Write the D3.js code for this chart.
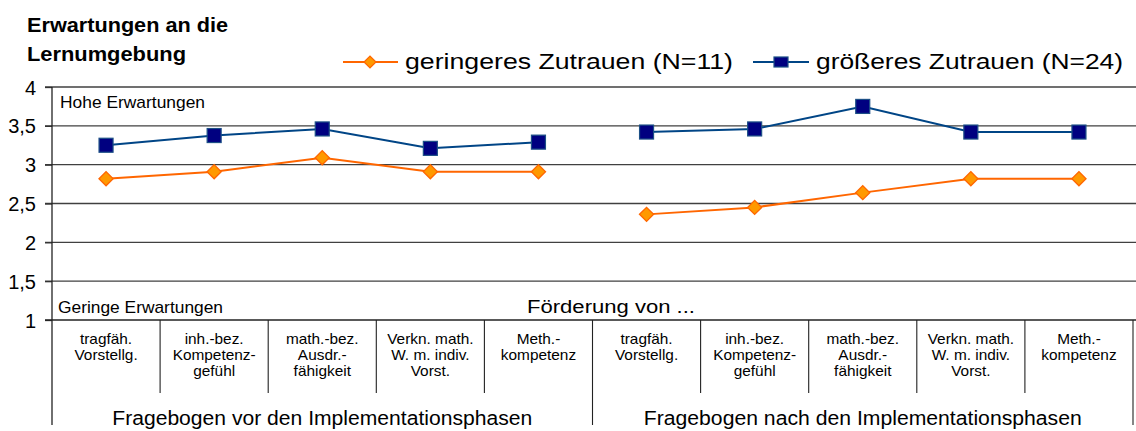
<html>
<head>
	<meta charset="utf-8">
	<script src="https://d3js.org/d3.v7.min.js"></script>
	<style>
		body { margin: 0; background: #fff; }
		text { font-family: "Liberation Sans", Arial, sans-serif; fill: #000; }
	</style>
</head>
<body>
	<svg width="1136" height="431" id="chart"></svg>
	<script>
		var categories = [
			["tragfäh.", "Vorstellg."],
			["inh.-bez.", "Kompetenz-", "gefühl"],
			["math.-bez.", "Ausdr.-", "fähigkeit"],
			["Verkn. math.", "W. m. indiv.", "Vorst."],
			["Meth.-", "kompetenz"],
			["tragfäh.", "Vorstellg."],
			["inh.-bez.", "Kompetenz-", "gefühl"],
			["math.-bez.", "Ausdr.-", "fähigkeit"],
			["Verkn. math.", "W. m. indiv.", "Vorst."],
			["Meth.-", "kompetenz"]
		];
		var groups = ["Fragebogen vor den Implementationsphasen", "Fragebogen nach den Implementationsphasen"];
		var geringer = [2.82, 2.91, 3.09, 2.91, 2.91, 2.36, 2.45, 2.64, 2.82, 2.82];
		var groesser = [3.25, 3.375, 3.46, 3.21, 3.29, 3.42, 3.46, 3.75, 3.42, 3.42];
		var yTicks = [1, 1.5, 2, 2.5, 3, 3.5, 4];
		var seriesNames = ["geringeres Zutrauen (N=11)", "größeres Zutrauen (N=24)"];

		var svg = d3.select('#chart');
		var plotL = 52, plotR = 1133, plotT = 87, plotB = 320;

		var x = d3.scaleBand()
			.domain(d3.range(categories.length))
			.range([plotL, plotR]);
		var y = d3.scaleLinear().domain([1, 4]).range([plotB, plotT]);
		var fmt = function(d) { return String(d).replace('.', ','); };
		var cx = function(i) { return x(i) + x.bandwidth() / 2; };

		// text helper: width stretched via textLength (the source picture is wider than its font)
		function label(px, py, str, size, width, anchor, weight) {
			var t = svg.append('text')
				.attr('x', px).attr('y', py)
				.attr('text-anchor', anchor || 'start')
				.style('font-size', size + 'px')
				.style('font-weight', weight || 'normal')
				.text(str);
			if (width) t.attr('textLength', width).attr('lengthAdjust', 'spacingAndGlyphs');
			return t;
		}

		// gridlines
		svg.append('g').selectAll('line')
			.data(yTicks.slice(1))
			.enter().append('line')
			.attr('x1', plotL - 7).attr('x2', 1136)
			.attr('y1', function(d) { return y(d); })
			.attr('y2', function(d) { return y(d); })
			.attr('stroke', '#404040')
			.attr('stroke-width', 1.3);

		var yAxis = svg.append('g')
			.attr('transform', 'translate(' + plotL + ',0)')
			.call(d3.axisLeft(y).tickValues(yTicks).tickFormat(fmt).tickSize(7).tickPadding(9));
		yAxis.select('.domain').remove();
		yAxis.selectAll('line').attr('stroke', '#333').attr('stroke-width', 1.3);
		yAxis.selectAll('text')
			.style('font-size', '20px')
			.style('font-family', '"Liberation Sans", Arial, sans-serif')
			.attr('fill', '#000')
			.attr('dy', '0.35em');

		svg.append('line')
			.attr('x1', plotL).attr('x2', plotL).attr('y1', plotT).attr('y2', 425)
			.attr('stroke', '#222').attr('stroke-width', 1.3);
		svg.append('line')
			.attr('x1', plotL - 7).attr('x2', 1136).attr('y1', plotB).attr('y2', plotB)
			.attr('stroke', '#222').attr('stroke-width', 1.3);

		// category separators
		svg.append('g').selectAll('line')
			.data(d3.range(1, categories.length + 1))
			.enter().append('line')
			.attr('x1', function(i) { return i == categories.length ? plotR : x(i); })
			.attr('x2', function(i) { return i == categories.length ? plotR : x(i); })
			.attr('y1', plotB)
			.attr('y2', function(i) { return (i == 5 || i == 10) ? 425 : 393; })
			.attr('stroke', '#222').attr('stroke-width', 1.1);

		// category labels
		svg.append('g').selectAll('text')
			.data(categories)
			.enter().append('text')
			.attr('text-anchor', 'middle')
			.attr('transform', function(d, i) { return 'translate(' + cx(i) + ',0) scale(1.1,1)'; })
			.style('font-size', '14px')
			.each(function(d) {
				var t = d3.select(this);
				d.forEach(function(line, j) {
					t.append('tspan').attr('x', 0).attr('y', 344 + j * 16).text(line);
				});
			});

		groups.forEach(function(g, i) {
			label(x(i * 5) + x.bandwidth() * 2.5, 425, g, 20, i ? 438 : 420, 'middle');
		});

		// annotations
		label(60, 108, 'Hohe Erwartungen', 17, 145);
		label(58, 313, 'Geringe Erwartungen', 17, 165);
		label(527, 313, 'Förderung von ...', 18, 168);

		// title
		label(27, 32, 'Erwartungen an die', 20, 201, 'start', 'bold');
		label(27, 61, 'Lernumgebung', 20, 159, 'start', 'bold');

		// series lines (broken between the two questionnaires)
		function drawLine(values, color) {
			[0, 5].forEach(function(off) {
				svg.append('path')
					.datum(values.slice(off, off + 5))
					.attr('fill', 'none')
					.attr('stroke', color)
					.attr('stroke-width', 2)
					.attr('d', d3.line()
						.x(function(d, i) { return cx(i + off); })
						.y(function(d) { return y(d); }));
			});
		}
		drawLine(geringer, '#ff6600');
		drawLine(groesser, '#004586');

		svg.append('g').selectAll('rect')
			.data(geringer)
			.enter().append('rect')
			.attr('x', -5).attr('y', -5).attr('width', 10).attr('height', 10)
			.attr('transform', function(d, i) { return 'translate(' + cx(i) + ',' + y(d) + ') rotate(45)'; })
			.attr('fill', '#ff9900').attr('stroke', '#ff6600').attr('stroke-width', 1.3);

		svg.append('g').selectAll('rect')
			.data(groesser)
			.enter().append('rect')
			.attr('x', function(d, i) { return cx(i) - 7; })
			.attr('y', function(d) { return y(d) - 7; })
			.attr('width', 14).attr('height', 14)
			.attr('fill', '#000080').attr('stroke', '#1c4f86').attr('stroke-width', 1.2);

		// legend
		var lg = svg.append('g');
		lg.append('line').attr('x1', 343).attr('x2', 398).attr('y1', 62).attr('y2', 62)
			.attr('stroke', '#ff6600').attr('stroke-width', 2);
		lg.append('rect').attr('x', -4.2).attr('y', -4.2).attr('width', 8.4).attr('height', 8.4)
			.attr('transform', 'translate(370,62) rotate(45)')
			.attr('fill', '#ff9900').attr('stroke', '#ff6600').attr('stroke-width', 1.3);
		label(405, 69, seriesNames[0], 22, 328);
		lg.append('line').attr('x1', 753).attr('x2', 809).attr('y1', 62).attr('y2', 62)
			.attr('stroke', '#004586').attr('stroke-width', 2);
		lg.append('rect').attr('x', 774).attr('y', 57).attr('width', 14).attr('height', 10)
			.attr('fill', '#000080').attr('stroke', '#1c4f86').attr('stroke-width', 1.2);
		label(816, 69, seriesNames[1], 22, 307);
	</script>
</body>
</html>
